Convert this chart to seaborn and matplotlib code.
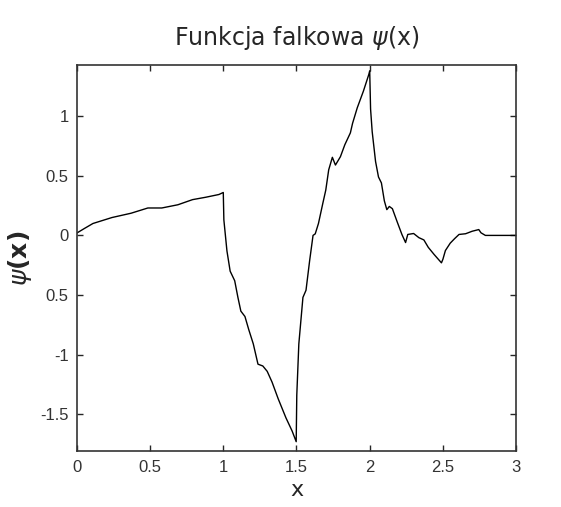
import numpy as np
import pandas as pd
import seaborn as sns
import matplotlib.pyplot as plt

# wavelet curve
x_vals = [0.0, 0.05, 0.11, 0.24, 0.37, 0.485, 0.58, 0.69, 0.79, 0.88, 0.97, 1.0,
          1.004, 1.025, 1.047, 1.078, 1.10, 1.12, 1.148, 1.174, 1.205, 1.237, 1.27,
          1.30, 1.333, 1.375, 1.428, 1.47, 1.498,
          1.502, 1.516, 1.544, 1.565, 1.59, 1.613, 1.628, 1.65, 1.68, 1.70, 1.72,
          1.745, 1.766, 1.80, 1.83, 1.868, 1.883, 1.915, 1.957, 1.994, 2.0,
          2.006, 2.017, 2.04, 2.06, 2.08, 2.10, 2.117, 2.134, 2.155, 2.187, 2.22,
          2.245, 2.26, 2.30, 2.336, 2.37, 2.40, 2.44, 2.49, 2.50, 2.517, 2.55,
          2.58, 2.61, 2.655, 2.70, 2.745, 2.76, 2.79, 3.0]
psi_vals = [0.02, 0.057, 0.10, 0.15, 0.186, 0.23, 0.23, 0.257, 0.30, 0.32, 0.343, 0.36,
            0.13, -0.13, -0.30, -0.38, -0.52, -0.635, -0.68, -0.79, -0.91, -1.08, -1.095,
            -1.14, -1.23, -1.37, -1.53, -1.64, -1.73,
            -1.34, -0.91, -0.52, -0.46, -0.21, 0.0, 0.013, 0.10, 0.27, 0.38, 0.55,
            0.655, 0.59, 0.66, 0.76, 0.86, 0.94, 1.07, 1.21, 1.35, 1.38,
            1.06, 0.87, 0.62, 0.49, 0.44, 0.29, 0.216, 0.243, 0.224, 0.116, 0.008,
            -0.06, 0.008, 0.016, -0.019, -0.038, -0.10, -0.16, -0.23, -0.20, -0.127, -0.065,
            -0.027, 0.008, 0.014, 0.035, 0.049, 0.022, 0.0, 0.0]

x_ticks = [0, 0.5, 1, 1.5, 2, 2.5, 3]
x_labels = ["0", "0.5", "1", "1.5", "2", "2.5", "3"]
y_ticks = [-1.5, -1, -0.5, 0, 0.5, 1]
y_labels = ["-1.5", "-1", "0.5", "0", "0.5", "1"]

df = pd.DataFrame({"x": x_vals, "psi": psi_vals})

sns.set_style("ticks")
plt.rcParams["font.family"] = ["DejaVu Sans"]

fig = plt.figure(figsize=(5.61, 5.07), dpi=100)
ax = fig.add_axes([0.137, 0.110, 0.783, 0.762])

sns.lineplot(data=df, x="x", y="psi", sort=False, estimator=None,
             color="black", linewidth=1.0, ax=ax)

ax.set_xlim(0, 3)
ax.set_ylim(-1.81, 1.43)
ax.set_xticks(x_ticks)
ax.set_xticklabels(x_labels, fontsize=12, family="Liberation Sans", color="#333333")
ax.set_yticks(y_ticks)
ax.set_yticklabels(y_labels, fontsize=12, family="Liberation Sans", color="#333333")
ax.tick_params(direction="in", top=True, right=True, length=4, width=1, pad=6)
for s in ax.spines.values():
    s.set_linewidth(1.2)
    s.set_color("#333333")

ax.set_title("Funkcja falkowa $\\psi$(x)", fontsize=17, pad=14)
ax.set_xlabel("x", fontsize=16, labelpad=4)
ax.set_ylabel("$\\psi$(x)", fontsize=18, fontweight="bold", labelpad=4)

plt.savefig("out.png", dpi=100)
plt.close()
